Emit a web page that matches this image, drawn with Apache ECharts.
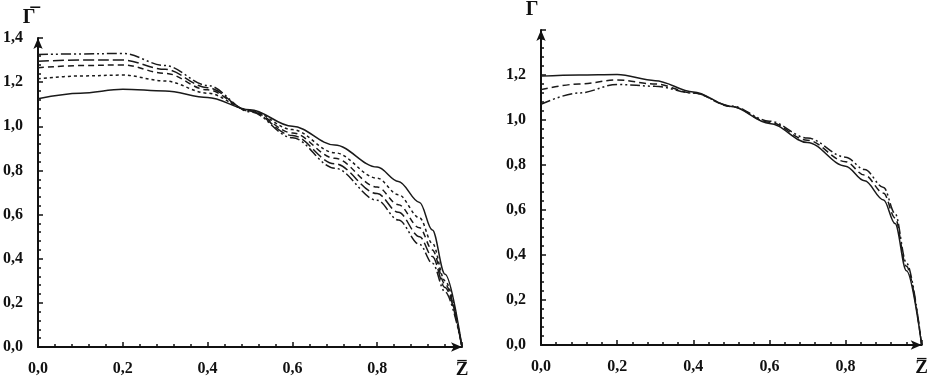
<!DOCTYPE html>
<html>
<head>
<meta charset="utf-8">
<script src="https://cdn.jsdelivr.net/npm/echarts@6/dist/echarts.min.js"></script>
<style>
  html, body { margin: 0; padding: 0; background: #fff; }
  #chart { width: 931px; height: 382px; }
</style>
</head>
<body>
<div id="chart"></div>
<script>
// data
var zLeft = [0, 0.1, 0.2, 0.3, 0.4, 0.5, 0.6, 0.7, 0.8, 0.85, 0.9, 0.93, 0.96, 1.0];
var leftSolid   = [1.125, 1.150, 1.168, 1.160, 1.130, 1.075, 1.000, 0.915, 0.815, 0.750, 0.655, 0.530, 0.330, 0];
var leftDotted  = [1.215, 1.228, 1.232, 1.205, 1.150, 1.072, 0.985, 0.880, 0.765, 0.690, 0.585, 0.470, 0.300, 0];
var leftDashed  = [1.265, 1.275, 1.278, 1.240, 1.165, 1.070, 0.970, 0.855, 0.725, 0.645, 0.540, 0.440, 0.285, 0];
var leftLong    = [1.295, 1.300, 1.300, 1.258, 1.175, 1.068, 0.958, 0.830, 0.695, 0.610, 0.500, 0.410, 0.270, 0];
var leftDashDot = [1.325, 1.328, 1.330, 1.275, 1.185, 1.066, 0.948, 0.810, 0.665, 0.575, 0.465, 0.380, 0.250, 0];

var zRight = [0, 0.1, 0.2, 0.3, 0.4, 0.5, 0.6, 0.7, 0.8, 0.85, 0.9, 0.93, 0.96, 1.0];
var rightSolid   = [1.195, 1.200, 1.202, 1.175, 1.125, 1.060, 0.985, 0.900, 0.795, 0.730, 0.645, 0.540, 0.330, 0];
var rightDashed  = [1.135, 1.160, 1.178, 1.160, 1.120, 1.060, 0.990, 0.910, 0.815, 0.755, 0.675, 0.565, 0.350, 0];
var rightDashDot = [1.070, 1.120, 1.158, 1.150, 1.120, 1.062, 0.995, 0.920, 0.835, 0.780, 0.700, 0.585, 0.365, 0];

var xTicks = [0, 0.2, 0.4, 0.6, 0.8];
var yTicks = [0, 0.2, 0.4, 0.6, 0.8, 1.0, 1.2, 1.4];

var chart = echarts.init(document.getElementById('chart'));

var font = 'Liberation Serif';
function comma(v) { return v.toFixed(1).replace('.', ','); }
function pairs(xs, ys) { return xs.map(function (x, i) { return [x, ys[i]]; }); }

function xAxis(idx) {
  return {
    type: 'value', gridIndex: idx, min: 0, max: 1, interval: 0.2,
    axisLine: { lineStyle: { color: '#111', width: 2 }, symbol: ['none', 'arrow'], symbolSize: [7, 11] },
    axisTick: { inside: true, length: 5, lineStyle: { color: '#111', width: 1.5 } },
    minorTick: { show: true, splitNumber: 5, length: 3, lineStyle: { color: '#111', width: 1.5 } },
    splitLine: { show: false },
    axisLabel: {
      margin: 14, color: '#111', fontFamily: font, fontWeight: 'bold', fontSize: 16,
      formatter: function (v) { return v >= 1 ? '{z|Z\u0305}' : comma(v); },
      rich: { z: { fontFamily: font, fontWeight: 'bold', fontSize: 19, color: '#111' } }
    }
  };
}
function yAxis(idx, hideTop) {
  return {
    type: 'value', gridIndex: idx, min: 0, max: 1.4, interval: 0.2,
    name: '\u0393\u0305', nameLocation: 'end', nameGap: 10,
    nameTextStyle: { fontFamily: font, fontWeight: 'bold', fontSize: 20, color: '#111', padding: [0, 18, 0, 0] },
    axisLine: { lineStyle: { color: '#111', width: 2 }, symbol: ['none', 'arrow'], symbolSize: [7, 11] },
    axisTick: { inside: true, length: 5, lineStyle: { color: '#111', width: 1.5 } },
    minorTick: { show: true, splitNumber: 5, length: 3, lineStyle: { color: '#111', width: 1.5 } },
    splitLine: { show: false },
    axisLabel: {
      margin: 15, color: '#111', fontFamily: font, fontWeight: 'bold', fontSize: 16,
      formatter: function (v) { return (hideTop && v > 1.3) ? '' : comma(v); }
    }
  };
}
function line(name, xi, xs, ys, type) {
  return {
    name: name, type: 'line', xAxisIndex: xi, yAxisIndex: xi,
    data: pairs(xs, ys), showSymbol: false, smooth: 0.35, smoothMonotone: 'x',
    lineStyle: { color: '#1a1a1a', width: 1.5, type: type }
  };
}

var option = {
  animation: false,
  backgroundColor: '#fff',
  grid: [
    { left: 37, top: 38, width: 425, height: 309 },
    { left: 541, top: 30, width: 387, height: 315 }
  ],
  xAxis: [xAxis(0), xAxis(1)],
  yAxis: [yAxis(0, false), yAxis(1, true)],
  series: [
    line('solid', 0, zLeft, leftSolid, 'solid'),
    line('dotted', 0, zLeft, leftDotted, [3, 3]),
    line('dashed', 0, zLeft, leftDashed, [6, 4]),
    line('long', 0, zLeft, leftLong, [11, 4]),
    line('dashdot', 0, zLeft, leftDashDot, [10, 3, 2, 3, 2, 3]),
    line('solid', 1, zRight, rightSolid, 'solid'),
    line('dashed', 1, zRight, rightDashed, [7, 4]),
    line('dashdot', 1, zRight, rightDashDot, [10, 3, 2, 3, 2, 3])
  ]
};

chart.setOption(option);
window.addEventListener('resize', chart.resize);
</script>
</body>
</html>
